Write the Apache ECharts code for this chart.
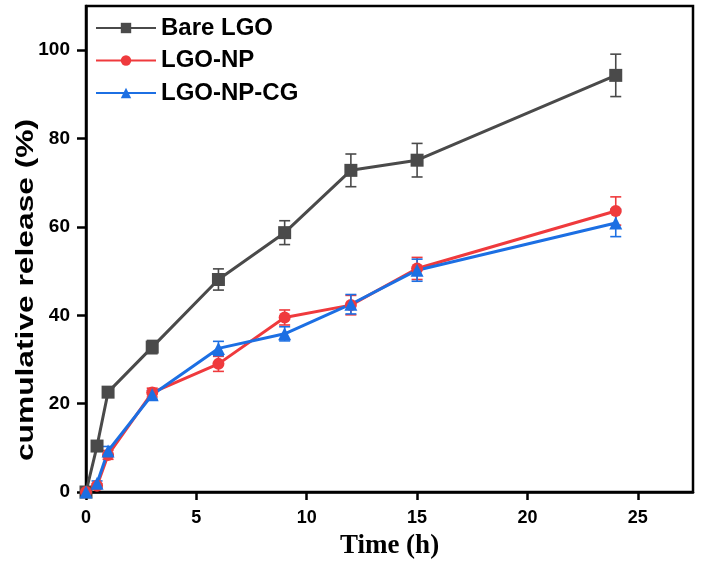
<!DOCTYPE html>
<html>
<head>
<meta charset="utf-8">
<script src="https://cdn.jsdelivr.net/npm/echarts@6/dist/echarts.min.js"></script>
<style>html,body{margin:0;padding:0;background:#fff}#c{width:702px;height:565px}</style>
</head>
<body>
<div id="c"></div>
<script>
const times = [0, 0.5, 1, 3, 6, 9, 12, 15, 24];
const bareLGO = [0, 10.4, 22.6, 32.8, 48.1, 58.7, 72.8, 75.1, 94.3];
const bareErr = [0.5, 0.8, 1.0, 1.5, 2.4, 2.7, 3.7, 3.8, 4.8];
const lgoNP = [0, 1.4, 8.4, 22.5, 29.0, 39.5, 42.3, 50.6, 63.6];
const npErr = [0.3, 0.5, 1.0, 1.0, 1.7, 1.7, 2.2, 2.5, 3.2];
const lgoNPCG = [0, 2.0, 9.3, 22.0, 32.5, 35.8, 42.5, 50.2, 60.9];
const cgErr = [0.3, 0.5, 1.0, 1.0, 1.6, 1.6, 2.2, 2.5, 3.1];
const seriesNames = ['Bare LGO', 'LGO-NP', 'LGO-NP-CG'];
const colors = ['#4a4a4a', '#ef3a3d', '#1c6fe3'];

const chart = echarts.init(document.getElementById('c'));
const FONT = '"Liberation Sans", Arial, sans-serif';

function pts(vals) { return times.map((t, i) => [t, vals[i]]); }
function errData(vals, errs) { return times.map((t, i) => [t, vals[i], errs[i]]); }
function errSeries(name, vals, errs, color) {
  return {
    name: name + ' err', type: 'custom', z: 1, silent: true,
    data: errData(vals, errs),
    renderItem: function (params, api) {
      const x = api.value(0), y = api.value(1), e = api.value(2);
      const top = api.coord([x, y + e]);
      const bot = api.coord([x, y - e]);
      const w = 5.5;
      const st = { stroke: color, lineWidth: 1.6 };
      return { type: 'group', children: [
        { type: 'line', shape: { x1: top[0], y1: top[1], x2: bot[0], y2: bot[1] }, style: st },
        { type: 'line', shape: { x1: top[0] - w, y1: top[1], x2: top[0] + w, y2: top[1] }, style: st },
        { type: 'line', shape: { x1: bot[0] - w, y1: bot[1], x2: bot[0] + w, y2: bot[1] }, style: st }
      ]};
    }
  };
}
function lineSeries(name, vals, color, symbol, size) {
  return {
    name: name, type: 'line', z: 3, data: pts(vals),
    symbol: symbol, symbolSize: size, showSymbol: true,
    itemStyle: { color: color },
    lineStyle: { color: color, width: 3 }
  };
}

chart.setOption({
  animation: false,
  backgroundColor: '#fff',
  grid: { left: 86, right: 9, top: 6, bottom: 72, show: true, borderColor: '#000', borderWidth: 2.5, backgroundColor: 'transparent' },
  legend: {
    data: seriesNames, orient: 'vertical', left: 95, top: 16, padding: 0,
    itemWidth: 60, itemHeight: 13, itemGap: 8.5,
    textStyle: { fontFamily: FONT, fontWeight: 'bold', fontSize: 24, color: '#000', lineHeight: 24 }
  },
  xAxis: {
    type: 'value', min: 0, max: 27.5, interval: 5,
    name: 'Time (h)', nameLocation: 'middle', nameGap: 41,
    nameTextStyle: { fontFamily: '"Liberation Serif", "Times New Roman", serif', fontWeight: 'bold', fontSize: 27, color: '#000' },
    axisLine: { show: true, onZero: false, lineStyle: { color: '#000', width: 2.5 } },
    axisTick: { show: true, length: 8, lineStyle: { color: '#000', width: 2.5 } },
    axisLabel: { fontFamily: FONT, fontWeight: 'bold', fontSize: 18, color: '#000', margin: 17, showMaxLabel: false },
    splitLine: { show: false }
  },
  yAxis: {
    type: 'value', min: 0, max: 110, interval: 20,
    axisLine: { show: true, onZero: false, lineStyle: { color: '#000', width: 2.5 } },
    axisTick: { show: true, length: 9, lineStyle: { color: '#000', width: 2.5 } },
    axisLabel: { fontFamily: FONT, fontWeight: 'bold', fontSize: 19, color: '#000', margin: 16, showMaxLabel: false },
    splitLine: { show: false }
  },
  graphic: [{
    type: 'text', x: 27, y: 290, rotation: Math.PI / 2, scaleX: 1.38,
    style: { text: 'cumulative release (%)', font: 'bold 23px ' + FONT, fill: '#000', align: 'center', verticalAlign: 'middle' }
  }],
  series: [
    errSeries(seriesNames[0], bareLGO, bareErr, colors[0]),
    errSeries(seriesNames[1], lgoNP, npErr, colors[1]),
    errSeries(seriesNames[2], lgoNPCG, cgErr, colors[2]),
    lineSeries(seriesNames[0], bareLGO, colors[0], 'rect', 13),
    lineSeries(seriesNames[1], lgoNP, colors[1], 'circle', 12),
    lineSeries(seriesNames[2], lgoNPCG, colors[2], 'triangle', 13)
  ]
});
</script>
</body>
</html>
